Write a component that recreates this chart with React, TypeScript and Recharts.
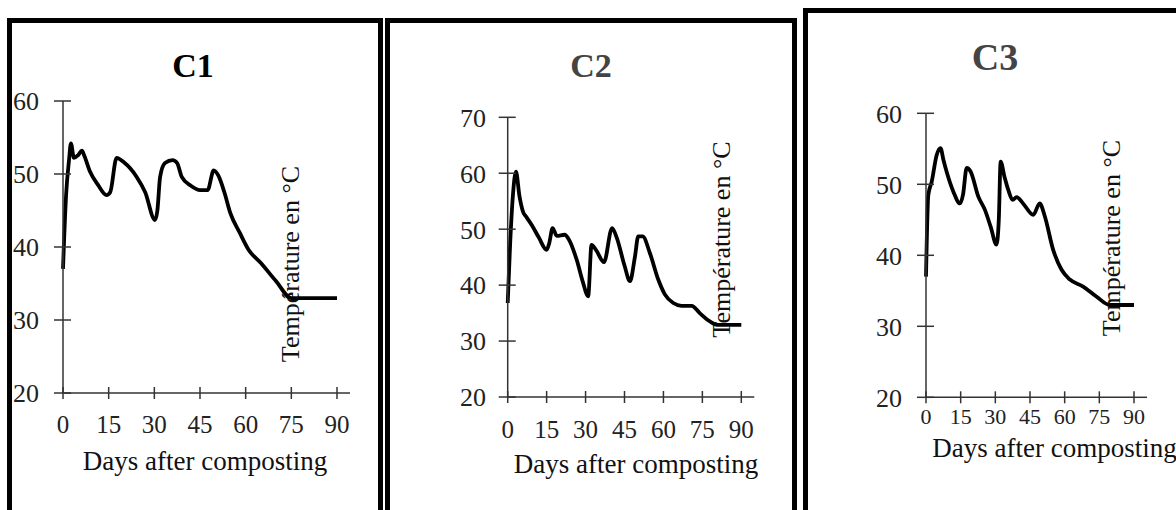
import React from 'react';
import { LineChart, Line, XAxis, YAxis } from 'recharts';

// days after composting (x) and temperature in °C (y)
const dayTicks = [0, 15, 30, 45, 60, 75, 90];

const c1Days = [0, 1, 2, 2.6, 3.6, 5, 6.2, 7, 8.9, 11.5, 14.3, 15.5, 17.6, 20, 24.2, 27, 30.2, 31, 31.9, 33.5, 36, 37.5, 39, 42, 45, 47.5, 49.5, 51, 53, 55, 58, 61, 65, 70, 75, 80, 90];
const c1Temp = [37, 47, 52, 54.2, 52.2, 52.6, 53.2, 52.5, 50.3, 48.5, 47.1, 47.5, 52.2, 51.6, 49.6, 47.5, 43.7, 45, 49.6, 51.5, 51.9, 51.5, 49.6, 48.4, 47.8, 47.8, 50.5, 49.8, 47.5, 44.6, 42, 39.6, 37.8, 35.3, 33, 33, 33];
const c1Ticks = [20, 30, 40, 50, 60];

const c2Days = [0, 1, 2, 3.2, 4.5, 6, 7, 9.2, 12, 15, 16, 17.3, 18.9, 22, 23.5, 26.6, 29, 31, 32.3, 34, 37.1, 40.2, 42, 45, 47.1, 49, 50.3, 52, 54.8, 58, 60.6, 63.8, 67, 70.9, 74, 77.9, 80.5, 90];
const c2Temp = [36.8, 48, 56, 60.3, 56, 53, 52.3, 50.8, 48.5, 46.3, 47.5, 50.2, 48.8, 49, 48.2, 44.5, 40.5, 38, 47.2, 46.3, 44.1, 50.2, 48.5, 43.5, 40.7, 45, 48.7, 48.7, 45.7, 41, 38.3, 36.8, 36.3, 36.3, 35, 33.5, 32.9, 32.9];
const c2Ticks = [20, 30, 40, 50, 60, 70];

const c3Days = [0, 1, 2.5, 4.6, 6.3, 7.5, 8.9, 11.8, 14.7, 16, 17.6, 19.3, 22.6, 25.5, 28, 30.5, 31.5, 32.3, 34, 35.6, 37.5, 39.2, 42, 46.4, 49.2, 51.4, 55, 58.6, 62.2, 68, 73.7, 79.5, 90];
const c3Temp = [37, 48.5, 50.4, 54.1, 55.1, 53.5, 51.8, 49, 47.3, 48.5, 52.3, 51.8, 48.3, 46.4, 44, 41.5, 45, 53.2, 51, 49.2, 47.8, 48.2, 47.3, 45.7, 47.3, 45.5, 40.8, 38, 36.6, 35.6, 34.2, 33, 33];
const c3Ticks = [20, 30, 40, 50, 60];

const serif = '"Liberation Serif", "Times New Roman", serif';

function toRows(days: number[], temps: number[]) {
  return days.map((d, i) => ({ day: d, temp: temps[i] }));
}

function YTick(props: any) {
  const { x, y, payload, gap, fs } = props;
  return (
    <g>
      <line x1={x - 9} x2={x + 8} y1={y} y2={y} stroke="#333" strokeWidth={1.5} />
      <text x={x - gap} y={y} dy="0.36em" textAnchor="end" fontSize={fs} fontFamily={serif} fill="#222">
        {payload.value}
      </text>
    </g>
  );
}

function XTick(props: any) {
  const { x, y, payload, off, fs } = props;
  return (
    <g>
      <line x1={x} x2={x} y1={y - 6} y2={y + 6} stroke="#333" strokeWidth={1.5} />
      {payload.value === 90 && <line x1={x} x2={x + 13} y1={y} y2={y} stroke="#333" strokeWidth={1.5} />}
      <text x={x} y={y + off} textAnchor="middle" fontSize={fs} fontFamily={serif} fill="#222">
        {payload.value}
      </text>
    </g>
  );
}

const panels = [
  {
    name: 'C1', rows: toRows(c1Days, c1Temp), yTicks: c1Ticks, yMax: 60,
    left: 0, width: 380, margin: { top: 101, right: 43, bottom: 37, left: 23 },
    box: { left: 7, top: 18, width: 376 },
    title: { x: 193, y: 77, fs: 34, fill: '#000' },
    yLab: { x: 299, y: 264 }, xLab: { x: 205, y: 470 },
    xOff: 40, fsX: 25, fsY: 26, yGap: 24,
  },
  {
    name: 'C2', rows: toRows(c2Days, c2Temp), yTicks: c2Ticks, yMax: 70,
    left: 383, width: 420, margin: { top: 117.3, right: 61.7, bottom: 33, left: 84.7 },
    box: { left: 385, top: 18, width: 412 },
    title: { x: 208, y: 77, fs: 34, fill: '#444' },
    yLab: { x: 347, y: 239.5 }, xLab: { x: 253, y: 473 },
    xOff: 41, fsX: 25, fsY: 26, yGap: 21.7,
  },
  {
    name: 'C3', rows: toRows(c3Days, c3Temp), yTicks: c3Ticks, yMax: 60,
    left: 800, width: 376, margin: { top: 113.3, right: 42, bottom: 32.7, left: 86 },
    box: { left: 803, top: 8, width: 400 },
    title: { x: 195, y: 70, fs: 38, fill: '#444' },
    yLab: { x: 320, y: 238 }, xLab: { x: 254.5, y: 457 },
    xOff: 27, fsX: 22, fsY: 26, yGap: 24,
  },
];

export default function App() {
  return (
    <div style={{ position: 'absolute', left: 0, top: 0, width: 1176, height: 510, overflow: 'hidden', background: '#fff' }}>
      {panels.map((p) => (
        <div key={p.name} style={{ position: 'absolute', left: p.left, top: 0 }}>
          <LineChart width={p.width} height={510} data={p.rows} margin={p.margin}>
            <XAxis
              dataKey="day"
              type="number"
              domain={[0, 90]}
              ticks={dayTicks}
              height={80}
              tickSize={0}
              tickMargin={0}
              tickLine={false}
              axisLine={{ stroke: '#333', strokeWidth: 1.5 }}
              tick={(t: any) => <XTick {...t} off={p.xOff} fs={p.fsX} />}
            />
            <YAxis
              type="number"
              domain={[20, p.yMax]}
              ticks={p.yTicks}
              width={40}
              tickSize={0}
              tickMargin={0}
              tickLine={false}
              axisLine={{ stroke: '#333', strokeWidth: 1.5 }}
              tick={(t: any) => <YTick {...t} gap={p.yGap} fs={p.fsY} />}
            />
            <Line type="monotone" dataKey="temp" stroke="#000" strokeWidth={3.8} dot={false} isAnimationActive={false} />
            <text x={p.title.x} y={p.title.y} textAnchor="middle" fontSize={p.title.fs} fontWeight="bold" fontFamily={serif} fill={p.title.fill}>
              {p.name}
            </text>
            <text
              x={p.yLab.x}
              y={p.yLab.y}
              textAnchor="middle"
              fontSize={26}
              fontFamily={serif}
              fill="#111"
              transform={`rotate(-90 ${p.yLab.x} ${p.yLab.y})`}
            >
              Température en °C
            </text>
            <text x={p.xLab.x} y={p.xLab.y} textAnchor="middle" fontSize={27} fontFamily={serif} fill="#111">
              Days after composting
            </text>
          </LineChart>
        </div>
      ))}
      {panels.map((p) => (
        <div
          key={p.name + '-box'}
          style={{
            position: 'absolute',
            left: p.box.left,
            top: p.box.top,
            width: p.box.width,
            height: 530,
            boxSizing: 'border-box',
            border: '5px solid #000',
            pointerEvents: 'none',
          }}
        />
      ))}
    </div>
  );
}
